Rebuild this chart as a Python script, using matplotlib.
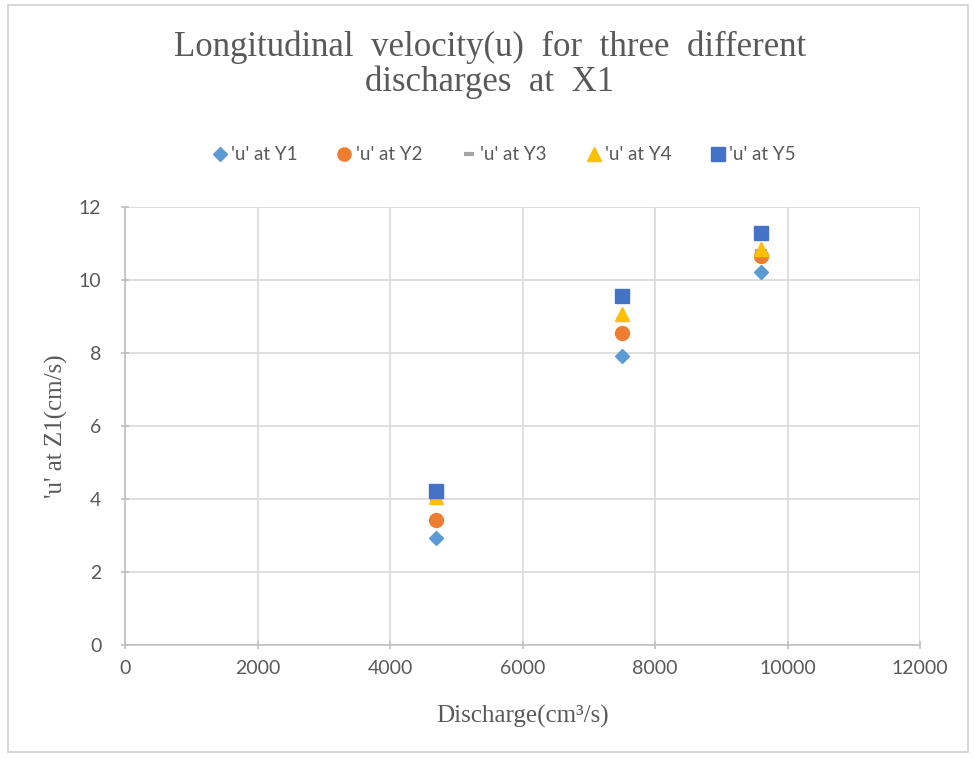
import numpy as np
import matplotlib
matplotlib.use("Agg")
import matplotlib.pyplot as plt
from matplotlib.patches import Rectangle

# data
discharge = [4700, 7500, 9600]
u_y1 = [2.93, 7.92, 10.22]
u_y2 = [3.42, 8.55, 10.66]
u_y3 = [3.97, 8.90, 10.80]
u_y4 = [4.05, 9.07, 10.85]
u_y5 = [4.22, 9.56, 11.29]

series_names = ["'u' at Y1", "'u' at Y2", "'u' at Y3", "'u' at Y4", "'u' at Y5"]

grey = '#595959'

fig = plt.figure(figsize=[9.74, 7.59], dpi=100)
ax = fig.add_axes([125/974, 1-645/759, (920-125)/974, (645-207)/759])

# outer chart border
fig.patches.append(Rectangle((8/974, 1-752/759), 960/974, 747/759, transform=fig.transFigure,
                             fill=False, edgecolor='#d0d0d0', lw=1.2))

ax.plot(discharge, u_y1, ls='none', marker='D', ms=7, color='#5B9BD5', label=series_names[0])
ax.plot(discharge, u_y2, ls='none', marker='o', ms=10, color='#ED7D31', label=series_names[1])
ax.plot(discharge, u_y3, ls='none', marker='_', ms=8, mew=3, color='#A5A5A5', label=series_names[2])
ax.plot(discharge, u_y4, ls='none', marker='^', ms=10, color='#FFC000', label=series_names[3])
ax.plot(discharge, u_y5, ls='none', marker='s', ms=10, color='#4472C4', label=series_names[4])

ax.set_xlim(0, 12000)
ax.set_ylim(0, 12)
ax.set_xticks(np.arange(0, 12001, 2000))
ax.set_yticks(np.arange(0, 13, 2))
ax.grid(True, color='#d9d9d9', lw=1.2)
ax.set_axisbelow(True)
for s in ['top', 'right']:
    ax.spines[s].set_visible(False)
for s in ['bottom', 'left']:
    ax.spines[s].set_color('#bfbfbf')
    ax.spines[s].set_linewidth(1.2)
ax.tick_params(direction='inout', length=6, width=1.2, color='#bfbfbf',
               labelsize=14, labelcolor=grey)
ax.tick_params(axis='y', pad=14)
ax.tick_params(axis='x', pad=8)
for lab in ax.get_xticklabels() + ax.get_yticklabels():
    lab.set_family('Lato')

ax.set_xlabel('Discharge(cm³/s)', family='Liberation Serif', fontsize=18, color=grey, labelpad=20)
ax.set_ylabel("'u' at Z1(cm/s)", family='Liberation Serif', fontsize=18, color=grey, labelpad=8)

fig.text(0.503, 1-65/759, 'Longitudinal  velocity(u)  for  three  different\ndischarges  at  X1',
         ha='center', va='center', family='Liberation Serif', fontsize=25, color=grey,
         linespacing=1.05)

leg = ax.legend(loc='center', bbox_to_anchor=(504/974, 1-155/759), bbox_transform=fig.transFigure,
                ncol=5, frameon=False, prop={'family': 'Lato', 'size': 13.5},
                handlelength=0.8, handletextpad=0.2, columnspacing=2.1, markerscale=0.95)
for t in leg.get_texts():
    t.set_color(grey)

plt.savefig('out.png', dpi=100)
plt.close()
